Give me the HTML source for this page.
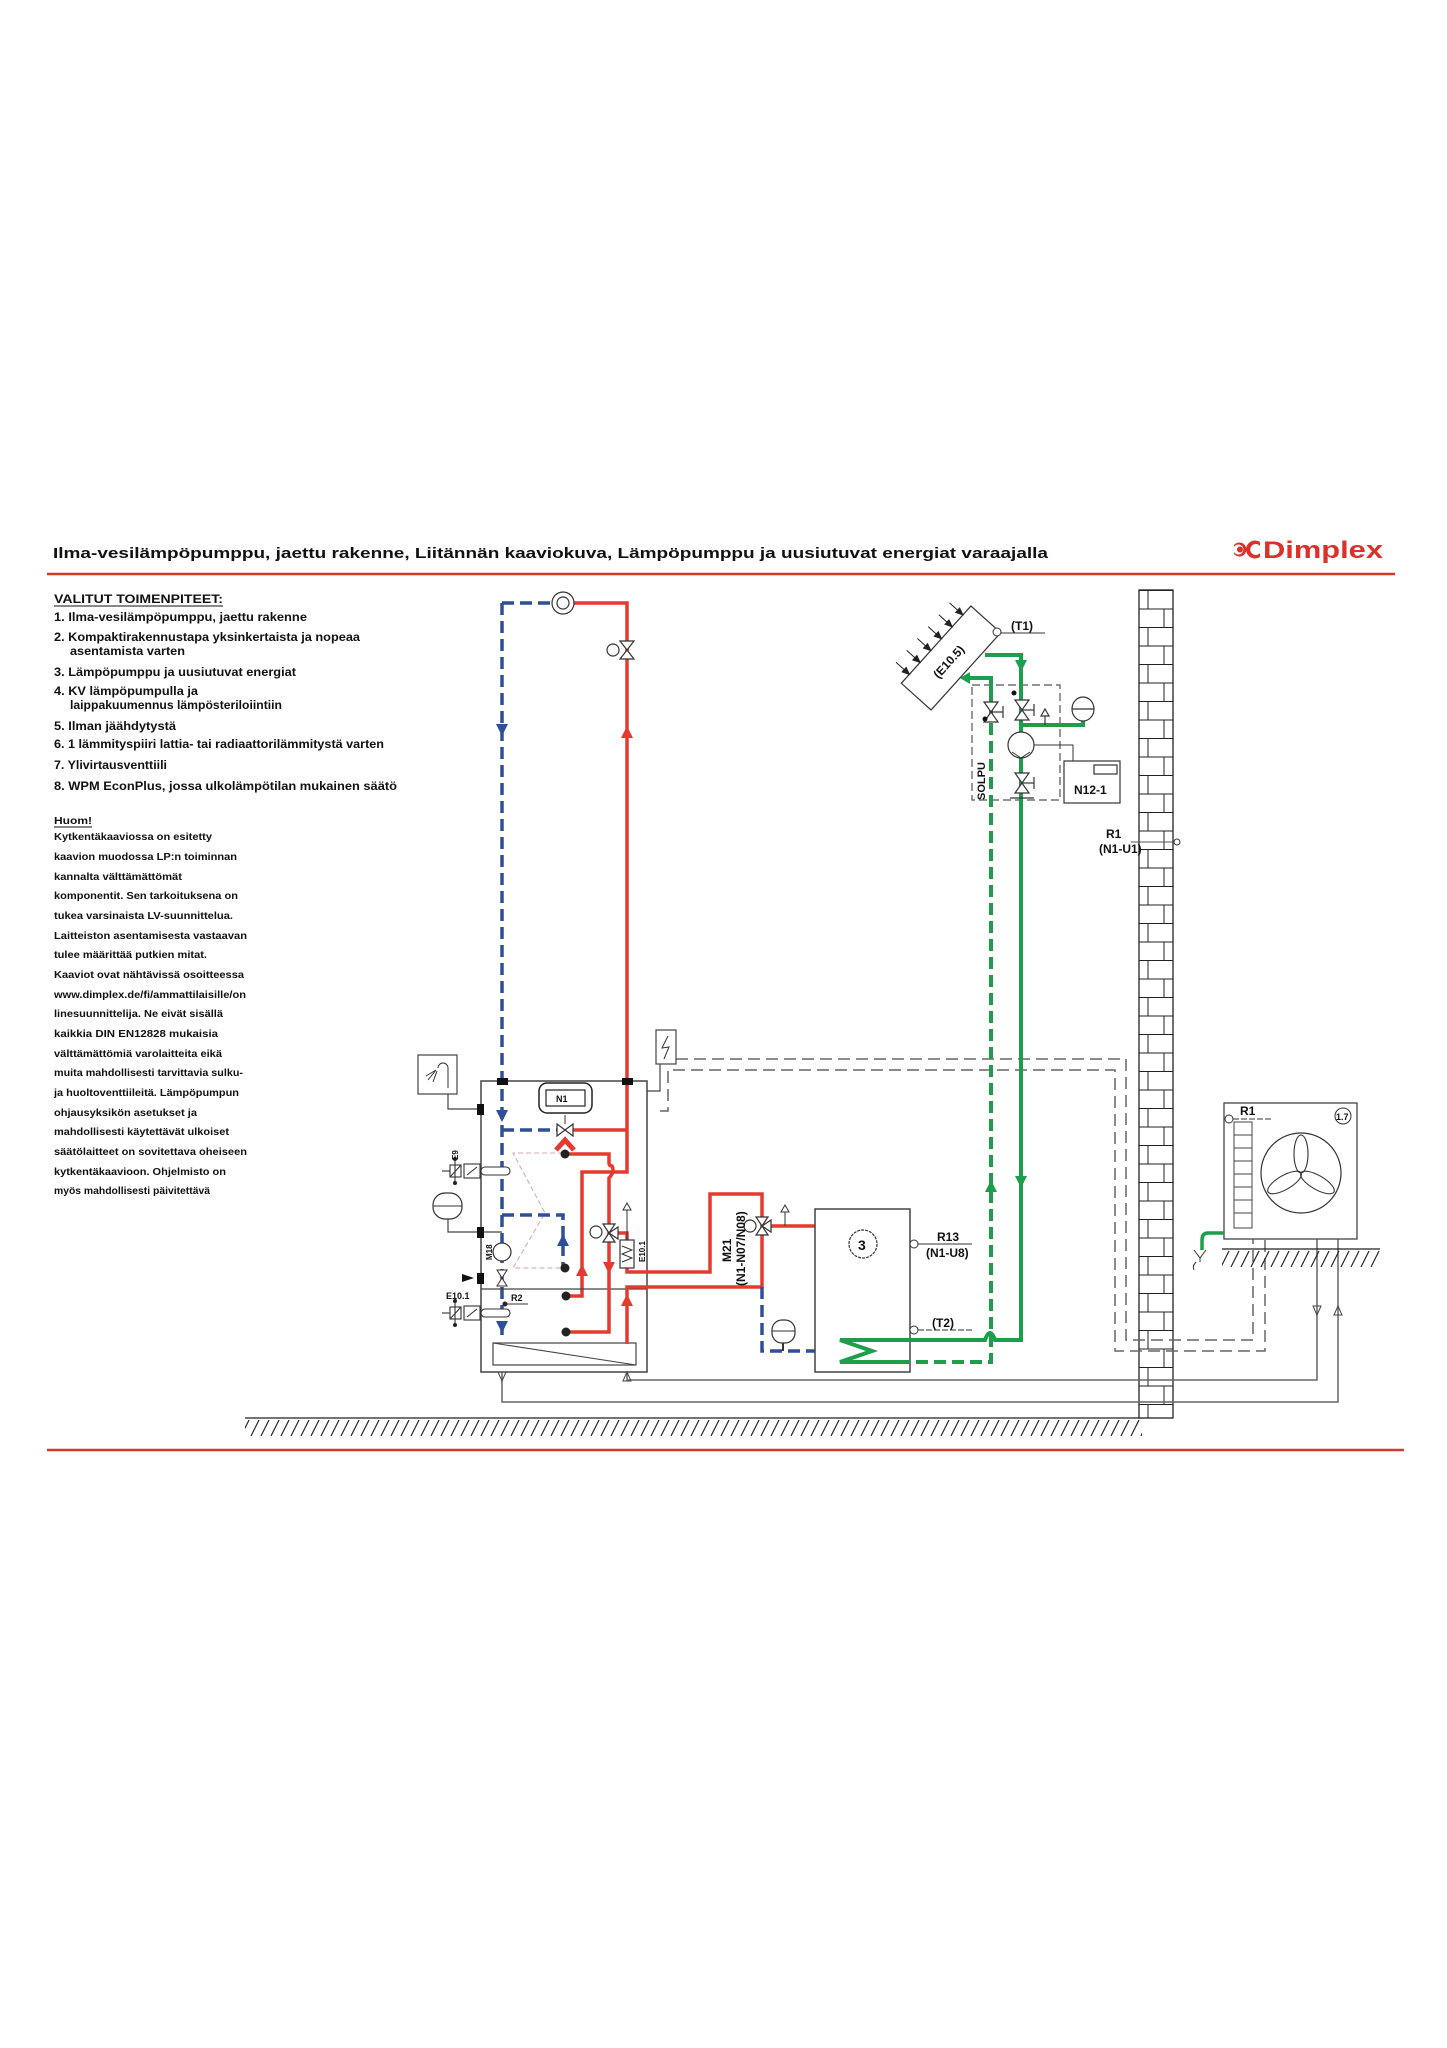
<!DOCTYPE html>
<html><head><meta charset="utf-8"><style>
html,body{margin:0;padding:0;background:#fff}
svg{display:block}
text{font-family:"Liberation Sans",Arial,sans-serif;font-weight:bold;fill:#111}
</style></head><body>
<svg width="1447" height="2048" viewBox="0 0 1447 2048" xmlns="http://www.w3.org/2000/svg">
<defs>
<pattern id="brick" x="1139" y="590" width="34" height="37" patternUnits="userSpaceOnUse">
<rect width="34" height="37" fill="#fff"/>
<line x1="0" y1="0.5" x2="34" y2="0.5" stroke="#222" stroke-width="1"/>
<line x1="0" y1="19" x2="34" y2="19" stroke="#222" stroke-width="1"/>
<line x1="9" y1="0" x2="9" y2="19" stroke="#222" stroke-width="1"/>
<line x1="25" y1="19" x2="25" y2="37" stroke="#222" stroke-width="1"/>
</pattern>
<pattern id="hatch" x="0" y="1418" width="10" height="18" patternUnits="userSpaceOnUse">
<line x1="1" y1="18" x2="9" y2="2" stroke="#222" stroke-width="1.2"/>
</pattern>
<pattern id="hatch2" x="0" y="1249" width="10" height="18" patternUnits="userSpaceOnUse">
<line x1="1" y1="18" x2="9" y2="2" stroke="#222" stroke-width="1.2"/>
</pattern>
</defs>

<!-- Header -->
<text x="53" y="558" font-size="15" textLength="995" lengthAdjust="spacingAndGlyphs">Ilma-vesilämpöpumppu, jaettu rakenne, Liitännän kaaviokuva, Lämpöpumppu ja uusiutuvat energiat varaajalla</text>
<line x1="47" y1="574" x2="1395" y2="574" stroke="#d23a2e" stroke-width="2.5"/>
<g fill="#d8322a">
<path d="M1234 545 a7 7 0 1 1 0 9 l0 -2 a5 5 0 1 0 0 -5z"/>
<circle cx="1240" cy="549.5" r="3"/>
<path d="M1260 542 a9 9 0 1 0 0 15 l0 -4 a5.5 5.5 0 1 1 0 -7z"/>
</g>
<text x="1263" y="558" font-size="24" fill="#d8322a" style="fill:#d8322a" textLength="120" lengthAdjust="spacingAndGlyphs">Dimplex</text>

<!-- Left text -->
<g font-size="12">
<text x="54" y="603" textLength="169" lengthAdjust="spacingAndGlyphs">VALITUT TOIMENPITEET:</text>
<line x1="54" y1="606" x2="223" y2="606" stroke="#111" stroke-width="1"/>
<text x="54" y="621" textLength="253" lengthAdjust="spacingAndGlyphs">1. Ilma-vesilämpöpumppu, jaettu rakenne</text>
<text x="54" y="641" textLength="306" lengthAdjust="spacingAndGlyphs">2. Kompaktirakennustapa yksinkertaista ja nopeaa</text>
<text x="70" y="655" textLength="115" lengthAdjust="spacingAndGlyphs">asentamista varten</text>
<text x="54" y="676" textLength="242" lengthAdjust="spacingAndGlyphs">3. Lämpöpumppu ja uusiutuvat energiat</text>
<text x="54" y="695" textLength="144" lengthAdjust="spacingAndGlyphs">4. KV lämpöpumpulla ja</text>
<text x="70" y="709" textLength="212" lengthAdjust="spacingAndGlyphs">laippakuumennus lämpösteriloiintiin</text>
<text x="54" y="730" textLength="122" lengthAdjust="spacingAndGlyphs">5. Ilman jäähdytystä</text>
<text x="54" y="748" textLength="330" lengthAdjust="spacingAndGlyphs">6. 1 lämmityspiiri lattia- tai radiaattorilämmitystä varten</text>
<text x="54" y="769" textLength="113" lengthAdjust="spacingAndGlyphs">7. Ylivirtausventtiili</text>
<text x="54" y="790" textLength="343" lengthAdjust="spacingAndGlyphs">8. WPM EconPlus, jossa ulkolämpötilan mukainen säätö</text>
</g>
<g font-size="10.5">
<text x="54" y="824" textLength="38" lengthAdjust="spacingAndGlyphs">Huom!</text>
<line x1="54" y1="827" x2="92" y2="827" stroke="#111" stroke-width="1"/>
<text x="54" y="840" textLength="158" lengthAdjust="spacingAndGlyphs">Kytkentäkaaviossa on esitetty</text>
<text x="54" y="860" textLength="183" lengthAdjust="spacingAndGlyphs">kaavion muodossa LP:n toiminnan</text>
<text x="54" y="880" textLength="128" lengthAdjust="spacingAndGlyphs">kannalta välttämättömät</text>
<text x="54" y="899" textLength="184" lengthAdjust="spacingAndGlyphs">komponentit. Sen tarkoituksena on</text>
<text x="54" y="919" textLength="179" lengthAdjust="spacingAndGlyphs">tukea varsinaista LV-suunnittelua.</text>
<text x="54" y="939" textLength="193" lengthAdjust="spacingAndGlyphs">Laitteiston asentamisesta vastaavan</text>
<text x="54" y="958" textLength="153" lengthAdjust="spacingAndGlyphs">tulee määrittää putkien mitat.</text>
<text x="54" y="978" textLength="190" lengthAdjust="spacingAndGlyphs">Kaaviot ovat nähtävissä osoitteessa</text>
<text x="54" y="998" textLength="192" lengthAdjust="spacingAndGlyphs">www.dimplex.de/fi/ammattilaisille/on</text>
<text x="54" y="1017" textLength="169" lengthAdjust="spacingAndGlyphs">linesuunnittelija. Ne eivät sisällä</text>
<text x="54" y="1037" textLength="164" lengthAdjust="spacingAndGlyphs">kaikkia DIN EN12828 mukaisia</text>
<text x="54" y="1057" textLength="168" lengthAdjust="spacingAndGlyphs">välttämättömiä varolaitteita eikä</text>
<text x="54" y="1076" textLength="189" lengthAdjust="spacingAndGlyphs">muita mahdollisesti tarvittavia sulku-</text>
<text x="54" y="1096" textLength="185" lengthAdjust="spacingAndGlyphs">ja huoltoventtiileitä. Lämpöpumpun</text>
<text x="54" y="1116" textLength="143" lengthAdjust="spacingAndGlyphs">ohjausyksikön asetukset ja</text>
<text x="54" y="1135" textLength="175" lengthAdjust="spacingAndGlyphs">mahdollisesti käytettävät ulkoiset</text>
<text x="54" y="1155" textLength="193" lengthAdjust="spacingAndGlyphs">säätölaitteet on sovitettava oheiseen</text>
<text x="54" y="1175" textLength="172" lengthAdjust="spacingAndGlyphs">kytkentäkaavioon. Ohjelmisto on</text>
<text x="54" y="1194" textLength="156" lengthAdjust="spacingAndGlyphs">myös mahdollisesti päivitettävä</text>
</g>

<!-- Ground -->
<rect x="245" y="1418" width="897" height="18" fill="url(#hatch)"/>
<line x1="245" y1="1418" x2="1142" y2="1418" stroke="#222" stroke-width="1.3"/>
<line x1="47" y1="1450" x2="1404" y2="1450" stroke="#d23a2e" stroke-width="2.5"/>

<!-- Brick wall -->
<rect x="1139" y="590" width="34" height="828" fill="url(#brick)" stroke="#222" stroke-width="1.3"/>

<!-- Gray return lines -->
<g fill="none" stroke="#666" stroke-width="1.5">
<path d="M502 1372 V1402 H1338 V1239"/>
<path d="M627 1372 V1380 H1317 V1239"/>
</g>
<polygon points="498,1372 506,1372 502,1381" fill="none" stroke="#444"/>
<polygon points="623,1381 631,1381 627,1372" fill="none" stroke="#444"/>
<polygon points="1313,1306 1321,1306 1317,1315" fill="none" stroke="#444"/>
<polygon points="1334,1315 1342,1315 1338,1306" fill="none" stroke="#444"/>

<!-- Gray dashed electrical lines -->
<g fill="none" stroke="#666" stroke-width="1.5" stroke-dasharray="12 6">
<path d="M676 1059 H1126 V1340 H1253 V1239"/>
<path d="M660 1111 H668 V1070 H1115 V1351 H1265 V1239"/>
</g>

<!-- Top circuit -->
<path d="M502 603 H552" stroke="#2f4f96" stroke-width="3.5" stroke-dasharray="12 6" fill="none"/>
<path d="M502 603 V1340" stroke="#2f4f96" stroke-width="3.5" stroke-dasharray="12 6" fill="none"/>
<path d="M574 603 H627 V1172 H582 V1296 H568" stroke="#e53a2f" stroke-width="3.5" fill="none"/>
<circle cx="563" cy="603" r="11" fill="#fff" stroke="#333" stroke-width="1.2"/>
<circle cx="563" cy="603" r="6" fill="none" stroke="#333" stroke-width="1.2"/>
<g fill="#fff" stroke="#333" stroke-width="1.2">
<polygon points="620,641 634,641 627,650"/><polygon points="620,659 634,659 627,650"/>
<circle cx="613" cy="650" r="6"/>
</g>
<g fill="#e53a2f"><polygon points="621,738 633,738 627,726"/><polygon points="576,1276 588,1276 582,1264"/><polygon points="621,1306 633,1306 627,1294"/></g>
<g fill="#2f4f96"><polygon points="496,724 508,724 502,736"/><polygon points="496,1110 508,1110 502,1122"/><polygon points="496,1321 508,1321 502,1333"/><polygon points="557,1246 569,1246 563,1234"/></g>

<!-- Tank 1 -->
<rect x="481" y="1081" width="166" height="291" fill="none" stroke="#444" stroke-width="1.5"/>
<line x1="481" y1="1289" x2="647" y2="1289" stroke="#444" stroke-width="1.2"/>
<rect x="493" y="1343" width="143" height="22" fill="none" stroke="#444" stroke-width="1.2"/>
<line x1="493" y1="1343" x2="636" y2="1365" stroke="#444" stroke-width="1"/>
<rect x="497" y="1078" width="11" height="7" fill="#111"/><rect x="622" y="1078" width="11" height="7" fill="#111"/>
<rect x="539" y="1083" width="53" height="30" rx="8" fill="#fff" stroke="#222" stroke-width="1.5"/>
<rect x="546" y="1090" width="39" height="16" fill="#fff" stroke="#222" stroke-width="1.2"/>
<text x="556" y="1102" font-size="9">N1</text>

<!-- pink dashed -->
<path d="M563 1153 H513 L545 1213 L513 1268 H563" fill="none" stroke="#d9a4b4" stroke-width="1" stroke-dasharray="5 3"/>

<!-- blue internal -->
<g stroke="#2f4f96" stroke-width="3.5" stroke-dasharray="12 6" fill="none">
<path d="M502 1130 H557"/><path d="M502 1215 H563 V1268"/>
</g>
<!-- red internal -->
<g stroke="#e53a2f" stroke-width="3.5" fill="none">
<path d="M573 1130 H627"/>
<path d="M565 1154 H609 V1163 Q609 1166 612 1166 Q615 1172 609 1178 V1332 H568"/>
<path d="M615 1233 H627 V1240"/>
<path d="M627 1268 V1272 H710 V1194 H762 V1287 H627 V1344"/>
<path d="M770 1226 H815"/>
</g>
<polygon points="603,1262 615,1262 609,1274" fill="#e53a2f"/>
<path d="M556 1150 L565 1140 L574 1150" stroke="#e53a2f" stroke-width="5" fill="none"/>
<g fill="#fff" stroke="#333" stroke-width="1.2">
<polygon points="557,1124 557,1136 565,1130"/><polygon points="573,1124 573,1136 565,1130"/>
</g>
<line x1="565" y1="1124" x2="565" y2="1115" stroke="#333"/>
<g fill="#222"><circle cx="565" cy="1154" r="4.5"/><circle cx="565" cy="1268" r="4.5"/><circle cx="566" cy="1296" r="4.5"/><circle cx="566" cy="1332" r="4.5"/></g>
<!-- 3-way valve -->
<g fill="#fff" stroke="#333" stroke-width="1.2">
<polygon points="603,1224 615,1224 609,1233"/><polygon points="603,1242 615,1242 609,1233"/><polygon points="618,1227 618,1239 609,1233"/>
<circle cx="596" cy="1232" r="6"/>
<rect x="620" y="1240" width="14" height="28"/>
</g>
<path d="M622 1246 L632 1250 L622 1254 L632 1258 L622 1262" fill="none" stroke="#333"/>
<text transform="translate(645,1262) rotate(-90)" font-size="8">E10.1</text>
<line x1="627" y1="1240" x2="627" y2="1210" stroke="#333"/>
<polygon points="623,1210 631,1210 627,1203" fill="#fff" stroke="#333"/>

<!-- shower -->
<rect x="418" y="1055" width="39" height="39" fill="#fff" stroke="#444" stroke-width="1.2"/>
<path d="M448 1088 V1068 a5 5 0 0 0 -10 0" fill="none" stroke="#333"/>
<path d="M436 1070 l-10 6 M436 1070 l-8 10 M437 1071 l-4 11" stroke="#333"/>
<path d="M448 1094 V1109 H478" fill="none" stroke="#444" stroke-width="1.2"/>
<rect x="477" y="1104" width="7" height="11" fill="#111"/>
<!-- electric -->
<rect x="656" y="1030" width="20" height="34" fill="#fff" stroke="#444" stroke-width="1.2"/>
<path d="M668 1036 L662 1048 L669 1047 L664 1059" fill="none" stroke="#333"/>
<path d="M647 1091 H660 V1064" fill="none" stroke="#444" stroke-width="1.2"/>

<!-- E9 -->
<g stroke="#333" stroke-width="1.1" fill="#fff">
<line x1="442" y1="1171" x2="450" y2="1171"/>
<rect x="450" y="1165" width="11" height="12"/><line x1="450" y1="1177" x2="461" y2="1165"/>
<line x1="455" y1="1159" x2="455" y2="1183"/>
<rect x="464" y="1164" width="16" height="14"/><line x1="467" y1="1175" x2="477" y2="1167"/>
<rect x="481" y="1167" width="29" height="8" rx="4"/>
<line x1="442" y1="1313" x2="450" y2="1313"/>
<rect x="450" y="1307" width="11" height="12"/><line x1="450" y1="1319" x2="461" y2="1307"/>
<line x1="455" y1="1301" x2="455" y2="1325"/>
<rect x="464" y="1306" width="16" height="14"/><line x1="467" y1="1317" x2="477" y2="1309"/>
<rect x="481" y="1309" width="29" height="8" rx="4"/>
</g>
<g fill="#222"><circle cx="455" cy="1159" r="2"/><circle cx="455" cy="1183" r="2"/><circle cx="455" cy="1301" r="2"/><circle cx="455" cy="1325" r="2"/><circle cx="505" cy="1304" r="2.5"/></g>
<text transform="translate(458,1160) rotate(-90)" font-size="8">E9</text>
<text x="446" y="1299" font-size="9">E10.1</text>
<text x="511" y="1301" font-size="9">R2</text>
<line x1="505" y1="1304" x2="528" y2="1304" stroke="#333"/>
<!-- left expansion vessel -->
<rect x="433" y="1193" width="29" height="26" rx="12" fill="#fff" stroke="#333" stroke-width="1.2"/>
<line x1="433" y1="1206" x2="462" y2="1206" stroke="#333"/>
<path d="M448 1219 V1232 H502" fill="none" stroke="#444" stroke-width="1.2"/>
<rect x="477" y="1227" width="7" height="11" fill="#111"/>
<circle cx="502" cy="1252" r="9" fill="#fff" stroke="#333" stroke-width="1.2"/>
<text transform="translate(492,1260) rotate(-90)" font-size="8">M18</text>
<g fill="#fff" stroke="#333"><polygon points="497,1270 507,1270 502,1278"/><polygon points="497,1286 507,1286 502,1278"/></g>
<polygon points="462,1274 474,1278 462,1282" fill="#111"/>
<rect x="477" y="1273" width="7" height="11" fill="#111"/>

<!-- M21 -->
<g fill="#fff" stroke="#333" stroke-width="1.2">
<polygon points="756,1217 768,1217 762,1226"/><polygon points="756,1235 768,1235 762,1226"/><polygon points="771,1220 771,1232 762,1226"/>
<circle cx="750" cy="1226" r="6"/>
</g>
<line x1="785" y1="1226" x2="785" y2="1212" stroke="#333"/>
<polygon points="781,1212 789,1212 785,1205" fill="#fff" stroke="#333"/>
<text transform="translate(731,1262) rotate(-90)" font-size="12">M21</text>
<text transform="translate(745,1286) rotate(-90)" font-size="12">(N1-N07/N08)</text>
<path d="M762 1287 V1351 H815" fill="none" stroke="#2f4f96" stroke-width="3.5" stroke-dasharray="12 6"/>
<rect x="772" y="1320" width="23" height="23" rx="10" fill="#fff" stroke="#333" stroke-width="1.2"/>
<line x1="772" y1="1331" x2="795" y2="1331" stroke="#333"/>
<line x1="783" y1="1343" x2="783" y2="1351" stroke="#333" stroke-width="2"/>

<!-- Tank 3 -->
<rect x="815" y="1209" width="95" height="163" fill="#fff" stroke="#444" stroke-width="1.5"/>
<circle cx="863" cy="1244" r="14" fill="none" stroke="#333" stroke-width="1.2" stroke-dasharray="3 1"/>
<text x="858" y="1250" font-size="14">3</text>
<circle cx="914" cy="1244" r="4" fill="#fff" stroke="#333"/>
<line x1="918" y1="1244" x2="972" y2="1244" stroke="#333"/>
<text x="937" y="1241" font-size="12">R13</text>
<text x="926" y="1257" font-size="12">(N1-U8)</text>
<circle cx="914" cy="1330" r="4" fill="#fff" stroke="#333"/>
<line x1="918" y1="1330" x2="972" y2="1330" stroke="#333" stroke-dasharray="6 2"/>
<text x="932" y="1327" font-size="12">(T2)</text>

<!-- Solar -->
<g transform="translate(951,658) rotate(-48)">
<rect x="-52" y="-20" width="104" height="40" fill="#fff" stroke="#333" stroke-width="1.2"/>
<text x="-24" y="5" font-size="12">(E10.5)</text>
<g stroke="#222" stroke-width="1" fill="#222">
<line x1="-40" y1="-38" x2="-40" y2="-24"/><polygon points="-43,-27 -37,-27 -40,-20"/>
<line x1="-24" y1="-38" x2="-24" y2="-24"/><polygon points="-27,-27 -21,-27 -24,-20"/>
<line x1="-8" y1="-38" x2="-8" y2="-24"/><polygon points="-11,-27 -5,-27 -8,-20"/>
<line x1="8" y1="-38" x2="8" y2="-24"/><polygon points="5,-27 11,-27 8,-20"/>
<line x1="24" y1="-38" x2="24" y2="-24"/><polygon points="21,-27 27,-27 24,-20"/>
<line x1="40" y1="-38" x2="40" y2="-24"/><polygon points="37,-27 43,-27 40,-20"/>
</g>
</g>
<circle cx="997" cy="632" r="4" fill="#fff" stroke="#333"/>
<line x1="1001" y1="633" x2="1045" y2="633" stroke="#333"/>
<text x="1011" y="630" font-size="12">(T1)</text>
<rect x="972" y="685" width="88" height="115" fill="none" stroke="#555" stroke-width="1.2" stroke-dasharray="8 4"/>
<path d="M985 655 H1021 V1340 H995 Q990 1326 985 1340 H840 L872 1351 L840 1362 H898" fill="none" stroke="#1c9e4c" stroke-width="4"/>
<path d="M898 1362 H991 V720" fill="none" stroke="#1c9e4c" stroke-width="4" stroke-dasharray="12 6"/>
<path d="M991 720 V678 H968" fill="none" stroke="#1c9e4c" stroke-width="4"/>
<polygon points="970,672 970,684 960,678" fill="#1c9e4c"/>
<polygon points="1015,660 1027,660 1021,672" fill="#1c9e4c"/>
<polygon points="1015,1176 1027,1176 1021,1188" fill="#1c9e4c"/>
<polygon points="985,1192 997,1192 991,1180" fill="#1c9e4c"/>
<path d="M1021 725 H1083 V718" fill="none" stroke="#1c9e4c" stroke-width="4"/>
<g fill="#fff" stroke="#333" stroke-width="1.2">
<polygon points="984,702 998,702 991,712"/><polygon points="984,722 998,722 991,712"/>
<polygon points="1015,700 1029,700 1022,710"/><polygon points="1015,720 1029,720 1022,710"/>
<polygon points="1015,773 1029,773 1022,783"/><polygon points="1015,793 1029,793 1022,783"/>
<ellipse cx="1083" cy="709" rx="11" ry="12"/>
<circle cx="1021" cy="745" r="13"/>
<rect x="1064" y="761" width="56" height="42"/>
<rect x="1094" y="765" width="23" height="9"/>
<polygon points="1041,716 1049,716 1045,709"/>
</g>
<path d="M1012 752 L1021 758 L1030 752" fill="none" stroke="#333"/>
<g stroke="#333" stroke-width="1.2"><line x1="991" y1="712" x2="1003" y2="712"/><line x1="1003" y1="706" x2="1003" y2="718"/>
<line x1="1022" y1="710" x2="1034" y2="710"/><line x1="1034" y1="704" x2="1034" y2="716"/>
<line x1="1022" y1="783" x2="1034" y2="783"/><line x1="1034" y1="777" x2="1034" y2="789"/>
<line x1="1010" y1="798" x2="1034" y2="798"/>
<line x1="1045" y1="716" x2="1045" y2="725"/><line x1="1072" y1="709" x2="1094" y2="709"/></g>
<circle cx="985" cy="719" r="2.5" fill="#111"/><circle cx="1014" cy="693" r="2.5" fill="#111"/>
<path d="M1034 745 H1073 V761" fill="none" stroke="#333"/>
<text x="1074" y="794" font-size="12">N12-1</text>
<text transform="translate(985,800) rotate(-90)" font-size="11">SOLPU</text>
<!-- R1 wall sensor -->
<text x="1106" y="838" font-size="12">R1</text>
<text x="1099" y="853" font-size="12">(N1-U1)</text>
<line x1="1131" y1="842" x2="1174" y2="842" stroke="#555"/>
<circle cx="1177" cy="842" r="3" fill="#fff" stroke="#333"/>

<!-- Outdoor unit -->
<rect x="1222" y="1249" width="158" height="18" fill="url(#hatch2)"/>
<line x1="1222" y1="1249" x2="1380" y2="1249" stroke="#222" stroke-width="1.3"/>
<rect x="1224" y="1103" width="133" height="136" fill="#fff" stroke="#444" stroke-width="1.3"/>
<rect x="1234" y="1122" width="18" height="106" fill="none" stroke="#444"/>
<g stroke="#444"><line x1="1234" y1="1135" x2="1252" y2="1135"/><line x1="1234" y1="1148" x2="1252" y2="1148"/><line x1="1234" y1="1161" x2="1252" y2="1161"/><line x1="1234" y1="1174" x2="1252" y2="1174"/><line x1="1234" y1="1187" x2="1252" y2="1187"/><line x1="1234" y1="1200" x2="1252" y2="1200"/><line x1="1234" y1="1213" x2="1252" y2="1213"/></g>
<circle cx="1301" cy="1173" r="40" fill="none" stroke="#333" stroke-width="1.2"/>
<g fill="none" stroke="#333" stroke-width="1.1">
<ellipse cx="1301" cy="1154" rx="7" ry="19"/>
<ellipse cx="1301" cy="1154" rx="7" ry="19" transform="rotate(120 1301 1173)"/>
<ellipse cx="1301" cy="1154" rx="7" ry="19" transform="rotate(240 1301 1173)"/>
</g>
<circle cx="1229" cy="1119" r="4" fill="#fff" stroke="#333"/>
<line x1="1233" y1="1119" x2="1272" y2="1119" stroke="#333" stroke-dasharray="6 2"/>
<text x="1240" y="1115" font-size="12">R1</text>
<circle cx="1343" cy="1116" r="8" fill="#fff" stroke="#333"/>
<text x="1336" y="1120" font-size="9">1.7</text>
<path d="M1224 1233 H1208 Q1202 1233 1202 1240 V1250" fill="none" stroke="#1c9e4c" stroke-width="3.5"/>
<path d="M1194 1250 L1200 1258 L1206 1250 M1200 1258 V1262 M1196 1262 q-4 4 -2 8" fill="none" stroke="#333"/>
</svg>
</body></html>
